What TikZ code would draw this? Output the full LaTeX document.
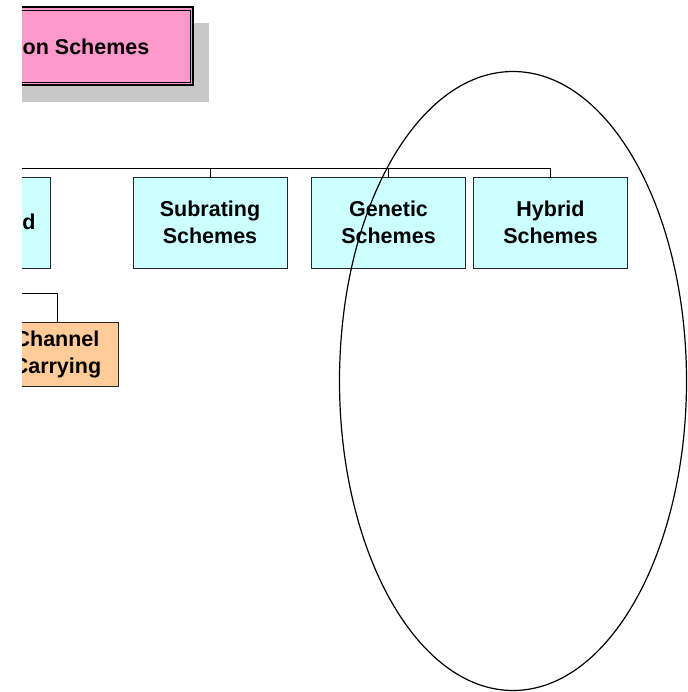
\documentclass[tikz,border=0pt]{standalone}
\usepackage{fontspec}
\setmainfont{Liberation Sans}
\usetikzlibrary{positioning}
\definecolor{boxcyan}{HTML}{CCFFFF}
\definecolor{boxpink}{HTML}{FF99CC}
\definecolor{boxorange}{HTML}{FFCC99}
\definecolor{shadowgray}{HTML}{C8C8C8}

\begin{document}
\begin{tikzpicture}[x=1pt,y=-1pt,
  boxfont/.style={font=\bfseries\fontsize{21.5}{27}\selectfont},
  schemebox/.style={draw=black!85, line width=0.8pt, fill=boxcyan, minimum width=154pt, minimum height=91pt, align=center, inner sep=0pt, boxfont},
  carrybox/.style={draw=black!85, line width=0.8pt, fill=boxorange, minimum width=122pt, minimum height=64pt, align=center, inner sep=0pt, boxfont},
  link/.style={draw=black, line width=0.8pt}]
\useasboundingbox (0,0) rectangle (687,692);
\clip (22,-5) rectangle (695,697);
% title box with shadow
\fill[shadowgray] (22,23) rectangle (209,102);
\draw[fill=boxpink, line width=1.4pt] (0,7) rectangle (193,85);
\draw[line width=0.6pt] (0,10) rectangle (190,82);
\node[boxfont, anchor=west, inner sep=0pt] (title) at (22.5,47) {on Schemes};
% scheme boxes
\node[schemebox] (fixed) at (-27,222.5) {};
\node[boxfont, inner sep=0pt] (fixedtxt) at (29,222) {d};
\node[schemebox] (subrating) at (210,222.5) {Subrating\\Schemes};
\node[schemebox] (genetic) at (388.5,222.5) {Genetic\\Schemes};
\node[schemebox] (hybrid) at (550.5,222.5) {Hybrid\\Schemes};
\node[carrybox] (carrying) at (57,354) {Channel\\Carrying};
% connectors
\coordinate (busleft) at (0,168);
\coordinate (carryleft) at (0,293);
\draw[link] (busleft) -| (hybrid.north);
\draw[link] (subrating.north) -- (subrating.north |- busleft);
\draw[link] (genetic.north) -- (genetic.north |- busleft);
\draw[link] (carryleft) -| (carrying.north);
% ellipse
\draw[line width=1.2pt] (513,381) ellipse [x radius=173.5, y radius=309.5];
\end{tikzpicture}
\end{document}
